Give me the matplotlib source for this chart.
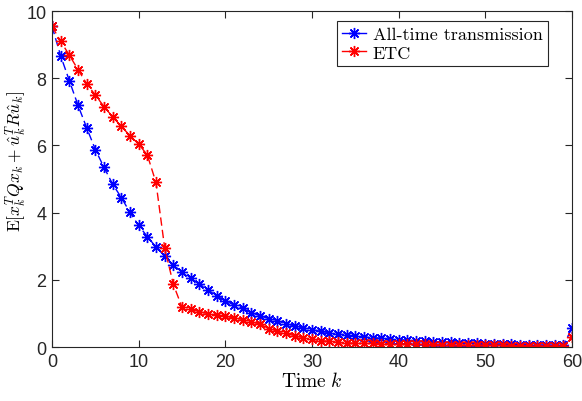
import numpy as np
import matplotlib
matplotlib.use("Agg")
import matplotlib.pyplot as plt

# cost per time step for the two transmission schemes
steps = np.arange(0, 61)
all_time = [9.55, 8.67, 7.93, 7.20, 6.53, 5.88, 5.35, 4.85, 4.45, 4.01,
            3.62, 3.29, 2.98, 2.71, 2.44, 2.24, 2.07, 1.88, 1.70, 1.53,
            1.38, 1.25, 1.15, 1.03, 0.93, 0.85, 0.78, 0.70, 0.63, 0.57,
            0.52, 0.47, 0.43, 0.39, 0.36, 0.33, 0.30, 0.28, 0.26, 0.24,
            0.22, 0.20, 0.18, 0.17, 0.16, 0.15, 0.14, 0.13, 0.12, 0.11,
            0.10, 0.09, 0.09, 0.08, 0.07, 0.07, 0.06, 0.06, 0.05, 0.05,
            0.57]
etc = [9.55, 9.10, 8.69, 8.26, 7.84, 7.50, 7.16, 6.85, 6.57, 6.29,
       6.04, 5.72, 4.90, 2.96, 1.87, 1.19, 1.12, 1.06, 0.99, 0.96,
       0.92, 0.87, 0.82, 0.75, 0.69, 0.55, 0.47, 0.41, 0.34, 0.28,
       0.24, 0.19, 0.17, 0.14, 0.12, 0.12, 0.11, 0.11, 0.10, 0.10,
       0.09, 0.09, 0.08, 0.08, 0.07, 0.07, 0.07, 0.06, 0.06, 0.06,
       0.05, 0.05, 0.05, 0.04, 0.04, 0.04, 0.04, 0.03, 0.03, 0.03,
       0.31]
series_labels = ["All-time transmission", "ETC"]
x_ticks = [0, 10, 20, 30, 40, 50, 60]
y_ticks = [0, 2, 4, 6, 8, 10]

plt.rcParams["mathtext.fontset"] = "cm"
plt.rcParams["font.family"] = ["Liberation Sans", "DejaVu Sans"]

fig = plt.figure(figsize=(5.82, 4.02), dpi=100)
ax = fig.add_axes([0.0893, 0.134, 0.8935, 0.836])

star = (8, 2, 0)
for ys, col, lab in zip([all_time, etc], ["#0000ff", "#ff0000"], series_labels):
    ax.plot(steps, ys, color=col, linestyle="--", dashes=(6, 3), linewidth=1.0,
            marker=star, markersize=8, markeredgewidth=1.0, label=lab)

ax.set_xlim(0, 60)
ax.set_ylim(0, 10)
ax.set_xticks(x_ticks)
ax.set_yticks(y_ticks)
ax.tick_params(direction="in", top=True, right=True, length=5, width=0.8,
               labelsize=13, colors="#262626", pad=4)
for sp in ax.spines.values():
    sp.set_color("#262626")
    sp.set_linewidth(0.8)

ax.set_xlabel(r"$\mathrm{Time}\ k$", fontsize=14, labelpad=1)
ax.set_ylabel(r"$\mathrm{E}[x_k^TQx_k+\hat{u}_k^TR\hat{u}_k]$", fontsize=12.5)
ax.yaxis.set_label_coords(-0.044, 0.557)

leg = ax.legend(loc="upper right", bbox_to_anchor=(0.954, 0.970),
                borderaxespad=0, prop={"family": "cmr10", "size": 13},
                handlelength=1.3, handletextpad=0.4, borderpad=0.3,
                labelspacing=0.15, fancybox=False, framealpha=1)
leg.get_frame().set_edgecolor("#262626")
leg.get_frame().set_linewidth(0.8)
for hl in leg.get_lines():
    hl.set_linestyle("-")

fig.savefig("out.png", dpi=100)
